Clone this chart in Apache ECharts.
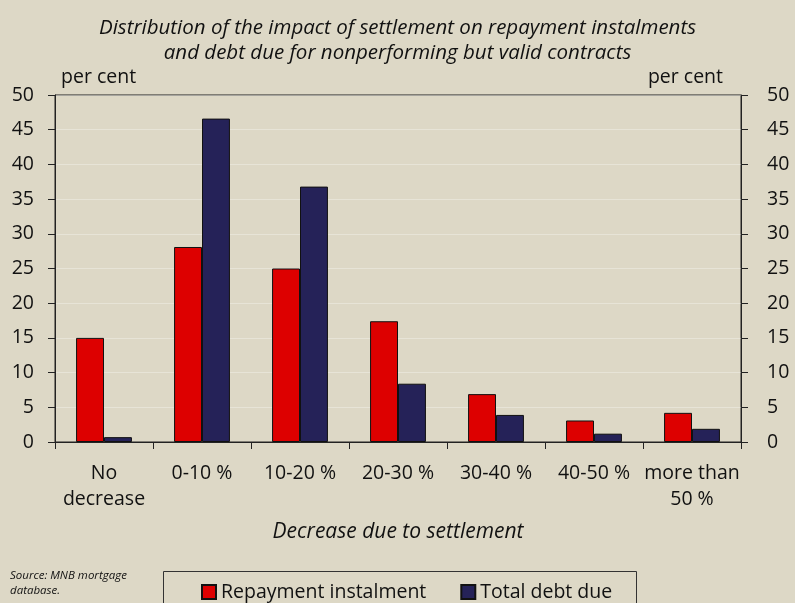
<!DOCTYPE html>
<html><head><meta charset="utf-8">
<script src="https://cdn.jsdelivr.net/npm/echarts@6/dist/echarts.min.js"></script>
<style>html,body{margin:0;padding:0;background:#ddd8c6}#c{width:795px;height:603px}</style>
</head><body><div id="c"></div>
<script>
const categories = ['No\ndecrease', '0-10 %', '10-20 %', '20-30 %', '30-40 %', '40-50 %', 'more than\n50 %'];
const repaymentInstalment = [15.0, 28.1, 25.0, 17.4, 6.9, 3.1, 4.2];
const totalDebtDue = [0.7, 46.6, 36.8, 8.4, 3.9, 1.2, 1.9];
const yTicks = {min: 0, max: 50, interval: 5};
const titleLines = ['Distribution of the impact of settlement on repayment instalments', 'and debt due for nonperforming but valid contracts'];
const seriesNames = ['Repayment instalment', 'Total debt due'];
const xAxisName = 'Decrease due to settlement';
const unitLabel = 'per cent';
const sourceLines = ['Source: MNB mortgage', 'database.'];

const FONT = 'Open Sans';
const chart = echarts.init(document.getElementById('c'), null, {renderer: 'canvas'});
const yAxisBase = {
  type: 'value', min: yTicks.min, max: yTicks.max, interval: yTicks.interval,
  axisLine: {show: true, lineStyle: {color: '#222', width: 1}},
  axisTick: {show: true, inside: false, length: 7, lineStyle: {color: '#222'}},
  splitLine: {show: true, lineStyle: {color: 'rgba(255,255,255,0.3)', width: 1}}
};
const yLabel = {color: '#111', fontSize: 19.5, fontFamily: FONT};
chart.setOption({
  backgroundColor: '#ddd8c6',
  animation: false,
  title: {
    text: titleLines.join('\n'), left: 'center', top: 11,
    textStyle: {fontSize: 20.5, fontStyle: 'italic', fontWeight: 'normal', color: '#111', fontFamily: FONT, lineHeight: 25}
  },
  grid: {left: 55, right: 54, top: 95, bottom: 161, show: true, borderColor: '#222', borderWidth: 1, backgroundColor: 'transparent'},
  legend: {
    data: seriesNames, left: 196, top: 577, itemWidth: 14, itemHeight: 14, itemGap: 34, icon: 'rect',
    textStyle: {fontSize: 19.5, color: '#111', fontFamily: FONT}
  },
  xAxis: {
    type: 'category', data: categories,
    axisLine: {show: true, lineStyle: {color: '#222'}},
    axisTick: {show: true, inside: false, length: 7, lineStyle: {color: '#222'}},
    axisLabel: {color: '#111', fontSize: 19.5, fontFamily: FONT, lineHeight: 26, margin: 18, interval: 0},
    name: xAxisName, nameLocation: 'middle', nameGap: 80,
    nameTextStyle: {fontSize: 21, fontStyle: 'italic', color: '#111', fontFamily: FONT}
  },
  yAxis: [
    Object.assign({}, yAxisBase, {position: 'left', axisLabel: Object.assign({margin: 21}, yLabel)}),
    Object.assign({}, yAxisBase, {position: 'right', splitLine: {show: false}, axisLabel: Object.assign({margin: 26}, yLabel)})
  ],
  series: [
    {name: seriesNames[0], type: 'bar', data: repaymentInstalment, barGap: '0%', barCategoryGap: '43%',
     itemStyle: {color: '#dd0000', borderColor: '#111', borderWidth: 1}},
    {name: seriesNames[1], type: 'bar', data: totalDebtDue, barGap: '0%', barCategoryGap: '43%',
     itemStyle: {color: '#252258', borderColor: '#111', borderWidth: 1}}
  ],
  graphic: [
    {type: 'rect', left: 163, top: 571, shape: {width: 473, height: 40}, style: {fill: 'transparent', stroke: '#333', lineWidth: 1}, z: -1},
    {type: 'text', left: 61, top: 67, style: {text: unitLabel, fontSize: 19.5, fontFamily: FONT, fill: '#111'}},
    {type: 'text', right: 72, top: 67, style: {text: unitLabel, fontSize: 19.5, fontFamily: FONT, fill: '#111'}},
    {type: 'text', left: 10, top: 568, style: {text: sourceLines.join('\n'), fontSize: 11.5, fontStyle: 'italic', fontFamily: FONT, fill: '#111', lineHeight: 15}}
  ]
});
</script></body></html>
